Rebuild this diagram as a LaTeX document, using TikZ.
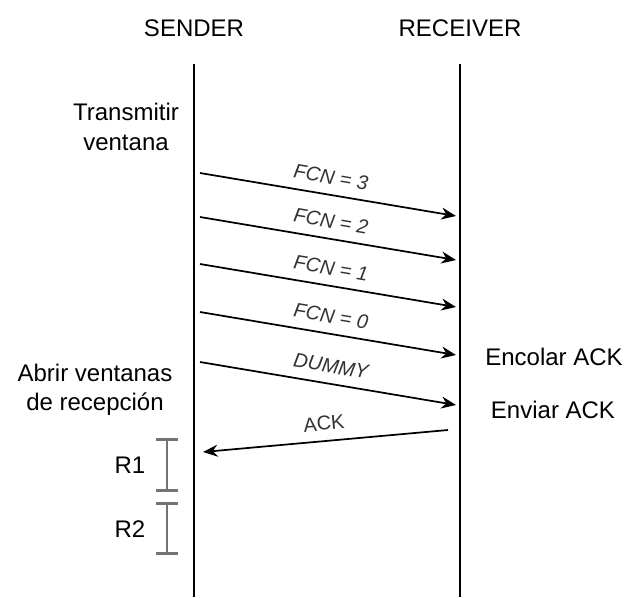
\documentclass[tikz,border=0pt]{standalone}
\usepackage{fontspec}
\setmainfont{Liberation Sans}
\usetikzlibrary{arrows.meta,positioning}

\begin{document}
\begin{tikzpicture}[x=0.75pt,y=-0.75pt,font=\fontsize{18}{22}\selectfont,
life/.style={line width=2.2pt},
msg/.style={-{Stealth[length=11pt,width=9pt]},line width=1.3pt},
lbl/.style={font=\fontsize{15}{17}\selectfont,midway,above=4pt,sloped,text=black!80},
win/.style={{Bar[width=16pt]}-{Bar[width=16pt]},draw=black!55,line width=2.2pt}]
\useasboundingbox (0,0) rectangle (631,597);
% lifelines
\node (snd) at (194,28) {SENDER};
\node (rcv) at (460,28) {RECEIVER};
\coordinate (sTop) at (194,64); \coordinate (sBot) at (194,597);
\coordinate (rTop) at (460,64); \coordinate (rBot) at (460,597);
\draw[life] (sTop)--(sBot);
\draw[life] (rTop)--(rBot);
% window
\foreach \y/\t [count=\i] in {173/{FCN = 3},217/{FCN = 2},264/{FCN = 1},312/{FCN = 0},362/{DUMMY}}{
  \coordinate (a\i) at (200,\y);
  \coordinate (b\i) at (456,\y+43);
  \draw[msg] (a\i) -- node[lbl,font=\fontsize{15}{17}\selectfont\itshape]{\t} (b\i);
}
\coordinate (ackA) at (448,430);
\coordinate (ackB) at (203,452);
\draw[msg] (ackA) -- node[lbl]{ACK} (ackB);
% notes
\node[align=center] (tx) at (126,127) {Transmitir\\ventana};
\node[align=center] (rx) at (95,390) {Abrir ventanas\\de recepción};
\node (enc) at (554,357) {Encolar ACK};
\node (env) at (553,410) {Enviar ACK};
% receive windows
\coordinate (w1a) at (167,438); \coordinate (w1b) at (167,492);
\coordinate (w2a) at (167,502); \coordinate (w2b) at (167,555);
\draw[win] (w1a)--(w1b);
\draw[win] (w2a)--(w2b);
\node (r1) at (130,465) {R1};
\node (r2) at (130,529) {R2};
\end{tikzpicture}
\end{document}
